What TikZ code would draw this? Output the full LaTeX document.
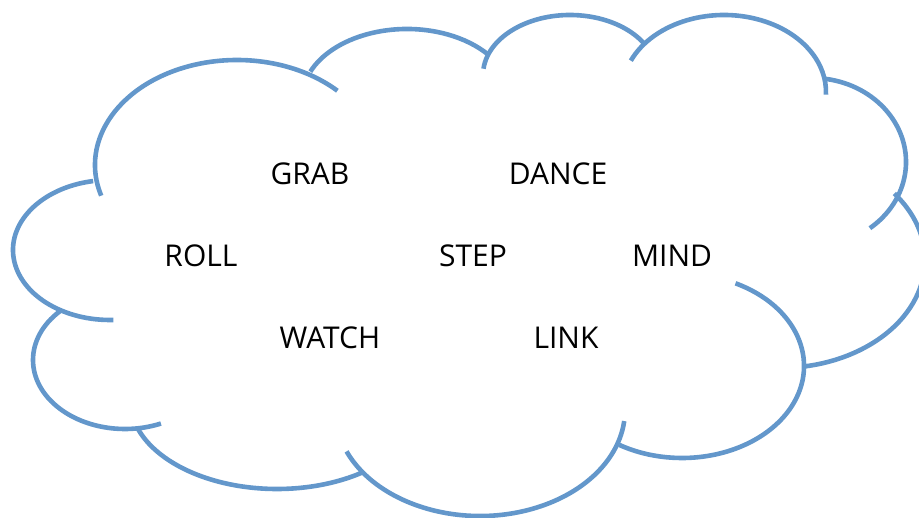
\documentclass[tikz,border=0pt]{standalone}
\usepackage{fontspec}
\setmainfont{Open Sans}
\usepackage{tikz}
\definecolor{cloudblue}{RGB}{99,151,203}

\begin{document}
\begin{tikzpicture}[x=0.5pt,y=0.5pt]
    \tikzset{bump/.style={draw=cloudblue,line width=2.3pt},
      word/.style={font=\fontsize{15}{18}\selectfont,text=black}}
    \useasboundingbox (0,0) rectangle (919,518);
    \begin{scope}
    \clip (0,0) rectangle (919,518);
    \draw[bump] (237,353) ++(197:142 and 105) arc (197:45:142 and 105);
    \draw[bump] (407,419) ++(157:105 and 70) arc (157:40:105 and 70);
    \draw[bump] (570,443) ++(174:87 and 60) arc (174:32:87 and 60);
    \draw[bump] (724,426) ++(156:102 and 77) arc (156:-2:102 and 77);
    \draw[bump] (812,356) ++(82:94 and 84) arc (82:-52:94 and 84);
    \draw[bump] (780,258) ++(38:145 and 108) arc (38:-80:145 and 108);
    \draw[bump] (682,152) ++(64:122 and 92) arc (64:-121:122 and 92);
    \draw[bump] (480,108) ++(203:145 and 106) arc (203:354:145 and 106);
    \draw[bump] (277,118) ++(198:147 and 89) arc (198:305:147 and 89);
    \draw[bump] (125,158) ++(135:92 and 69) arc (135:293:92 and 69);
    \draw[bump] (110,268) ++(100:97 and 70) arc (100:272:97 and 70);
    \end{scope}
    \node[word] (grab) at (310,344) {GRAB};
    \node[word] (dance) at (558,344) {DANCE};
    \node[word] (roll) at (201,262) {ROLL};
    \node[word] (step) at (473,262) {STEP};
    \node[word] (mind) at (672,262) {MIND};
    \node[word] (watch) at (330,180) {WATCH};
    \node[word] (link) at (566,180) {LINK};
  \end{tikzpicture}
\end{document}
